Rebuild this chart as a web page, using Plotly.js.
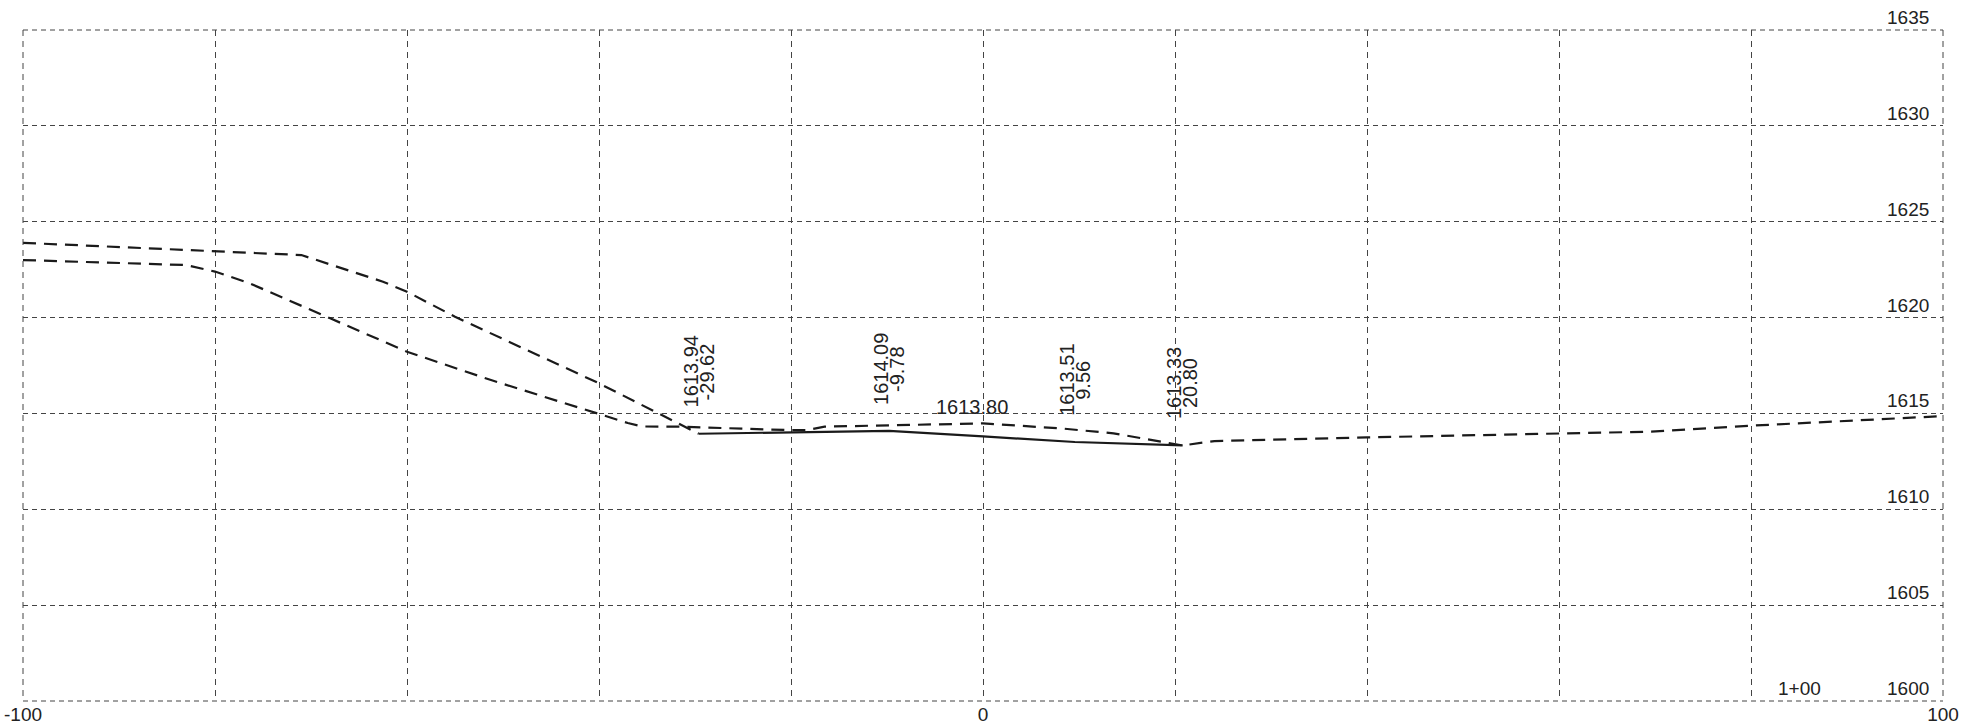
<!DOCTYPE html>
<html>
<head>
<meta charset="utf-8">
<script src="https://cdn.plot.ly/plotly-3.0.1.min.js"></script>
<style>
  html, body { margin: 0; padding: 0; background: #ffffff; }
  #chart { width: 1986px; height: 728px; }
</style>
</head>
<body>
<div id="chart"></div>
<script>
// ---- Data ----
// Upper dashed profile (left side, ends at the left catch point)
const upperStations = [-100, -80, -71, -62.5, -60, -55, -40, -29.62];
const upperElev     = [1623.9, 1623.44, 1623.26, 1621.87, 1621.35, 1620.04, 1616.57, 1613.94];

// Lower dashed profile (full width)
const groundStations = [-100, -83, -80, -76.4, -68, -60, -51.25, -40, -37, -35.5, -31.7, -20.2, -18.3, -16.5, 0, 8.1, 13.6, 20.8, 24.1, 40, 60, 69.6, 80, 100];
const groundElev     = [1623.0, 1622.74, 1622.4, 1621.79, 1619.96, 1618.22, 1616.74, 1615.0, 1614.5, 1614.32, 1614.31, 1614.13, 1614.13, 1614.31, 1614.48, 1614.22, 1613.96, 1613.33, 1613.56, 1613.75, 1613.96, 1614.05, 1614.36, 1614.86];

// Solid design section (labelled break points)
const designStations = [-29.62, -9.78, 0, 9.56, 20.80];
const designElev     = [1613.94, 1614.09, 1613.80, 1613.51, 1613.33];

// Axis ticks / labels
const xGridVals   = [-100, -80, -60, -40, -20, 0, 20, 40, 60, 80, 100];
const xTickLabels = ['-100', '', '', '', '', '0', '', '', '', '', '100'];
const yGridVals   = [1600, 1605, 1610, 1615, 1620, 1625, 1630, 1635];
const stationLabel = '1+00';
const stationLabelX = 85;

// ---- Styles ----
const FONT = 'Liberation Sans, Arial, Helvetica, sans-serif';
const TXT = '#222222';
const GRID = '#444444';
const FS = 19;
const FS_LBL = 20;

const traces = [
  {
    x: upperStations, y: upperElev, type: 'scatter', mode: 'lines',
    line: { color: '#1a1a1a', width: 2.2, dash: '13px,8px' }, hoverinfo: 'skip'
  },
  {
    x: groundStations, y: groundElev, type: 'scatter', mode: 'lines',
    line: { color: '#1a1a1a', width: 2.2, dash: '13px,8px' }, hoverinfo: 'skip'
  },
  {
    x: designStations, y: designElev, type: 'scatter', mode: 'lines',
    line: { color: '#1a1a1a', width: 2.2 }, hoverinfo: 'skip'
  }
];

const annotations = [];
// elevation labels inside the right edge
yGridVals.forEach(v => {
  annotations.push({
    xref: 'paper', x: 1, xanchor: 'right', xshift: -12,
    yref: 'y', y: v, yanchor: 'bottom', yshift: 0,
    text: String(v), showarrow: false,
    font: { family: FONT, size: FS, color: TXT }
  });
});
// station label
annotations.push({
  xref: 'x', x: stationLabelX, xanchor: 'center',
  yref: 'y', y: yGridVals[0], yanchor: 'bottom', yshift: 0,
  text: stationLabel, showarrow: false,
  font: { family: FONT, size: FS, color: TXT }
});
// break-point labels
designStations.forEach((s, i) => {
  const e = designElev[i];
  if (s === 0) {
    annotations.push({
      xref: 'x', x: s, xanchor: 'center', xshift: -11,
      yref: 'y', y: e, yanchor: 'bottom', yshift: 16,
      text: e.toFixed(2), showarrow: false,
      font: { family: FONT, size: FS_LBL, color: TXT }
    });
  } else {
    annotations.push({
      xref: 'x', x: s, xanchor: 'center', xshift: -8,
      yref: 'y', y: e, yanchor: 'middle', yshift: 62,
      textangle: -90,
      text: e.toFixed(2), showarrow: false,
      font: { family: FONT, size: FS_LBL, color: TXT }
    });
    annotations.push({
      xref: 'x', x: s, xanchor: 'center', xshift: 8,
      yref: 'y', y: e, yanchor: 'middle', yshift: 62,
      textangle: -90,
      text: s.toFixed(2), showarrow: false,
      font: { family: FONT, size: FS_LBL, color: TXT }
    });
  }
});

const borderLine = { color: GRID, width: 1 };
const shapes = [
  { type: 'line', xref: 'paper', yref: 'paper', x0: 0, x1: 1, y0: 1, y1: 1, line: Object.assign({ dash: '5px,4px' }, borderLine) },
  { type: 'line', xref: 'paper', yref: 'paper', x0: 0, x1: 1, y0: 0, y1: 0, line: Object.assign({ dash: '5px,4px' }, borderLine) },
  { type: 'line', xref: 'paper', yref: 'paper', x0: 0, x1: 0, y0: 1, y1: 0, line: Object.assign({ dash: '6px,5px' }, borderLine) },
  { type: 'line', xref: 'paper', yref: 'paper', x0: 1, x1: 1, y0: 1, y1: 0, line: Object.assign({ dash: '6px,5px' }, borderLine) }
];

const layout = {
  width: 1986, height: 728,
  margin: { l: 23, r: 43, t: 30, b: 27, pad: 0 },
  paper_bgcolor: '#ffffff', plot_bgcolor: '#ffffff',
  showlegend: false,
  font: { family: FONT, size: FS, color: TXT },
  xaxis: {
    range: [xGridVals[0], xGridVals[xGridVals.length - 1]],
    tickmode: 'array', tickvals: xGridVals, ticktext: xTickLabels,
    showgrid: true, gridcolor: GRID, gridwidth: 1, griddash: '6px,5px',
    zeroline: false, showline: false, ticks: '', ticklen: 0,
    tickfont: { family: FONT, size: FS, color: TXT },
    automargin: false, fixedrange: true
  },
  yaxis: {
    range: [yGridVals[0], yGridVals[yGridVals.length - 1]],
    tickmode: 'array', tickvals: yGridVals,
    showticklabels: false,
    showgrid: true, gridcolor: GRID, gridwidth: 1, griddash: '5px,4px',
    zeroline: false, showline: false, ticks: '',
    automargin: false, fixedrange: true
  },
  annotations: annotations,
  shapes: shapes
};

Plotly.newPlot('chart', traces, layout, { staticPlot: true, displayModeBar: false });
</script>
</body>
</html>
